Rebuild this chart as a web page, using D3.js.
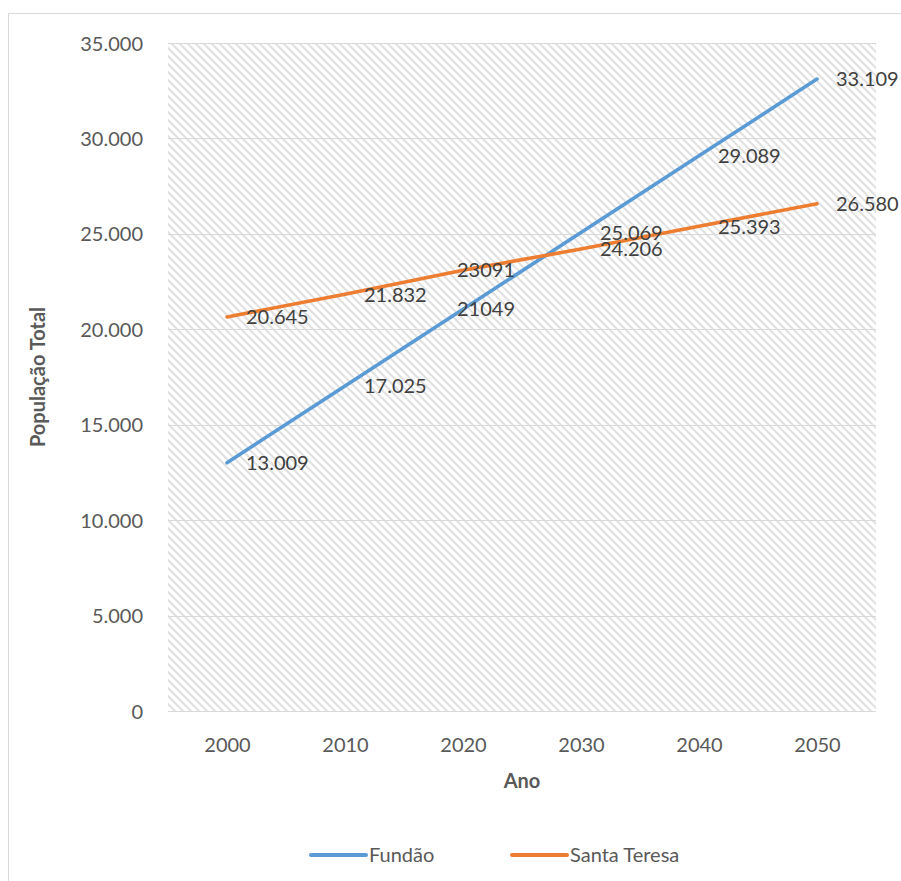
<!DOCTYPE html>
<html>
<head>
<meta charset="utf-8">
<script src="https://cdn.jsdelivr.net/npm/d3@7"></script>
<style>
  html, body { margin: 0; padding: 0; background: #fff; }
  svg { display: block; font-family: Lato, "Open Sans", sans-serif; }
</style>
</head>
<body>
<svg id="chart" width="901" height="881"></svg>
<script>
// Population projection per municipality
const years = ["2000", "2010", "2020", "2030", "2040", "2050"];
const fundao = [13009, 17025, 21049, 25069, 29089, 33109];
const santaTeresa = [20645, 21832, 23091, 24206, 25393, 26580];
const fundaoLabels = ["13.009", "17.025", "21049", "25.069", "29.089", "33.109"];
const santaTeresaLabels = ["20.645", "21.832", "23091", "24.206", "25.393", "26.580"];
const yTicks = [0, 5000, 10000, 15000, 20000, 25000, 30000, 35000];
const yTickLabels = ["0", "5.000", "10.000", "15.000", "20.000", "25.000", "30.000", "35.000"];

const series = [
  { name: "Fundão", values: fundao, labels: fundaoLabels, color: "#5b9bd5" },
  { name: "Santa Teresa", values: santaTeresa, labels: santaTeresaLabels, color: "#ed7d31" }
];

const svg = d3.select("#chart");
const plot = { left: 168, right: 876, top: 43, bottom: 711 };
const textColor = "#595959";
const gridColor = "#d9d9d9";
const fontSize = 20;

// Outer chart frame
svg.append("rect")
  .attr("x", 8.5).attr("y", 13.5)
  .attr("width", 920).attr("height", 900)
  .attr("fill", "#fff").attr("stroke", gridColor).attr("stroke-width", 1);

// Diagonal hatch fill for the plot area
const defs = svg.append("defs");
const pat = defs.append("pattern")
  .attr("id", "hatch")
  .attr("patternUnits", "userSpaceOnUse")
  .attr("width", 8).attr("height", 8);
pat.append("rect").attr("width", 8).attr("height", 8).attr("fill", "#fff");
pat.append("path")
  .attr("d", "M-2,-2 L10,10 M-2,6 L2,10 M6,-2 L10,2")
  .attr("stroke", "#e1e1e1").attr("stroke-width", 2);

svg.append("rect")
  .attr("x", plot.left).attr("y", plot.top)
  .attr("width", plot.right - plot.left).attr("height", plot.bottom - plot.top)
  .attr("fill", "url(#hatch)");

const x = d3.scalePoint().domain(years).range([plot.left, plot.right]).padding(0.5);
const y = d3.scaleLinear().domain([0, 35000]).range([plot.bottom, plot.top]);

// Horizontal gridlines
svg.append("g")
  .selectAll("line")
  .data(yTicks.slice(1))
  .join("line")
  .attr("x1", plot.left).attr("x2", plot.right)
  .attr("y1", d => Math.round(y(d)) + 0.5).attr("y2", d => Math.round(y(d)) + 0.5)
  .attr("stroke", gridColor).attr("stroke-width", 1);

// Y axis
const yAxis = svg.append("g")
  .attr("transform", `translate(${plot.left - 22},0)`)
  .call(d3.axisLeft(y).tickValues(yTicks).tickFormat((d, i) => yTickLabels[i]).tickSize(0));
yAxis.select(".domain").remove();
yAxis.selectAll("text")
  .attr("fill", textColor).attr("font-size", fontSize)
  .attr("font-family", "Lato, sans-serif")
  .attr("dy", "0.35em");

// X axis
const xAxis = svg.append("g")
  .attr("transform", `translate(0,${plot.bottom})`)
  .call(d3.axisBottom(x).tickSize(0));
xAxis.select(".domain")
  .attr("stroke", gridColor).attr("d", `M${plot.left},0.5H${plot.right}`);
xAxis.selectAll("text")
  .attr("fill", textColor).attr("font-size", fontSize)
  .attr("font-family", "Lato, sans-serif")
  .attr("y", 41).attr("dy", "0");

// Axis titles
svg.append("text")
  .attr("transform", `translate(45,${(plot.top + plot.bottom) / 2}) rotate(-90)`)
  .attr("text-anchor", "middle")
  .attr("font-size", 20).attr("font-weight", "bold").attr("fill", textColor)
  .text("População Total");
svg.append("text")
  .attr("x", (plot.left + plot.right) / 2).attr("y", 788)
  .attr("text-anchor", "middle")
  .attr("font-size", 20).attr("font-weight", "bold").attr("fill", textColor)
  .text("Ano");

// Lines
const line = d3.line().x((d, i) => x(years[i])).y(d => y(d));
svg.append("g")
  .selectAll("path")
  .data(series)
  .join("path")
  .attr("d", s => line(s.values))
  .attr("fill", "none")
  .attr("stroke", s => s.color)
  .attr("stroke-width", 3.6)
  .attr("stroke-linecap", "round");

// Data labels
series.forEach(s => {
  svg.append("g")
    .selectAll("text")
    .data(s.values)
    .join("text")
    .attr("x", (d, i) => x(years[i]) + (years[i] === "2020" ? -6 : 19))
    .attr("y", d => y(d))
    .attr("dy", "0.36em")
    .attr("font-size", fontSize)
    .attr("fill", "#404040")
    .text((d, i) => s.labels[i]);
});

// Legend
const legendItems = [
  { s: series[0], x: 311 },
  { s: series[1], x: 512 }
];
const lg = svg.append("g");
legendItems.forEach(item => {
  lg.append("line")
    .attr("x1", item.x).attr("x2", item.x + 55)
    .attr("y1", 855).attr("y2", 855)
    .attr("stroke", item.s.color).attr("stroke-width", 4)
    .attr("stroke-linecap", "round");
  lg.append("text")
    .attr("x", item.x + 58).attr("y", 855).attr("dy", "0.36em")
    .attr("font-size", fontSize).attr("fill", textColor)
    .text(item.s.name);
});
</script>
</body>
</html>
